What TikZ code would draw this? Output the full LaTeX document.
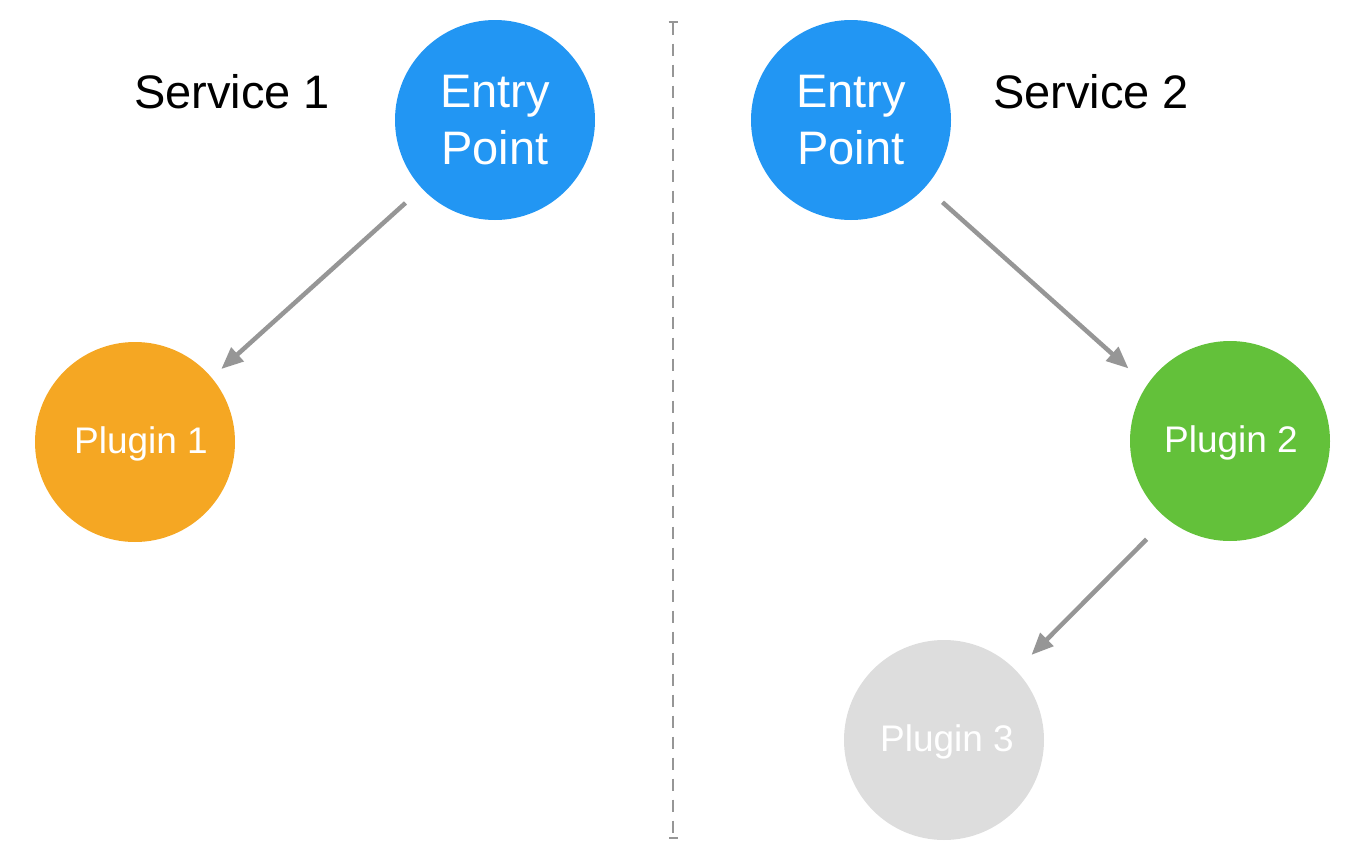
\documentclass[tikz,border=0pt]{standalone}
\usepackage{fontspec}
\setmainfont{Liberation Sans}
\usetikzlibrary{arrows.meta}
\definecolor{epblue}{RGB}{34,150,243}
\definecolor{porange}{RGB}{245,167,35}
\definecolor{pgreen}{RGB}{99,193,58}
\definecolor{pgray}{RGB}{221,221,221}
\definecolor{arrowgray}{RGB}{150,150,150}
\begin{document}
\begin{tikzpicture}[x=1pt,y=-1pt,
  circ/.style={circle,minimum size=200pt,inner sep=0pt,outer sep=0pt,text=white,align=center},
  bigtxt/.style={font=\fontsize{47}{57}\selectfont},
  smalltxt/.style={font=\fontsize{37}{44}\selectfont},
  conn/.style={draw=arrowgray,line width=4.5pt,-{Triangle[length=22pt,width=18pt]}},
  divider/.style={draw=arrowgray,line width=2pt,dash pattern=on 12pt off 9pt,{Bar[width=9pt]}-{Bar[width=9pt]}}]
\useasboundingbox (0,0) rectangle (1369,862);
\node[circ,fill=epblue,bigtxt] (ep1) at (495,120) {Entry\\Point};
\node[circ,fill=epblue,bigtxt] (ep2) at (851,120) {Entry\\Point};
\node[circ,fill=porange] (p1) at (135,442) {};
\node[circ,fill=pgreen] (p2) at (1230,441) {};
\node[circ,fill=pgray] (p3) at (944,740) {};
\node[smalltxt,text=white] (t1) at (141,444) {Plugin 1};
\node[smalltxt,text=white] (t2) at (1231,443) {Plugin 2};
\node[smalltxt,text=white] (t3) at (947,742) {Plugin 3};
\node[bigtxt,anchor=center] (s1) at (232,92) {Service 1};
\node[bigtxt,anchor=center] (s2) at (1091,92) {Service 2};
\coordinate (dtop) at (673,21);
\coordinate (dbot) at (673,839);
\draw[divider] (dtop) -- (dbot);
\draw[conn,shorten <=22pt,shorten >=13pt] (ep1.-137) -- (p1.40);
\draw[conn,shorten <=23pt,shorten >=25pt] (ep2.-42) -- (p2.146);
\draw[conn,shorten <=29pt,shorten >=22pt] (p2.-129) -- (p3.44);
\end{tikzpicture}
\end{document}
